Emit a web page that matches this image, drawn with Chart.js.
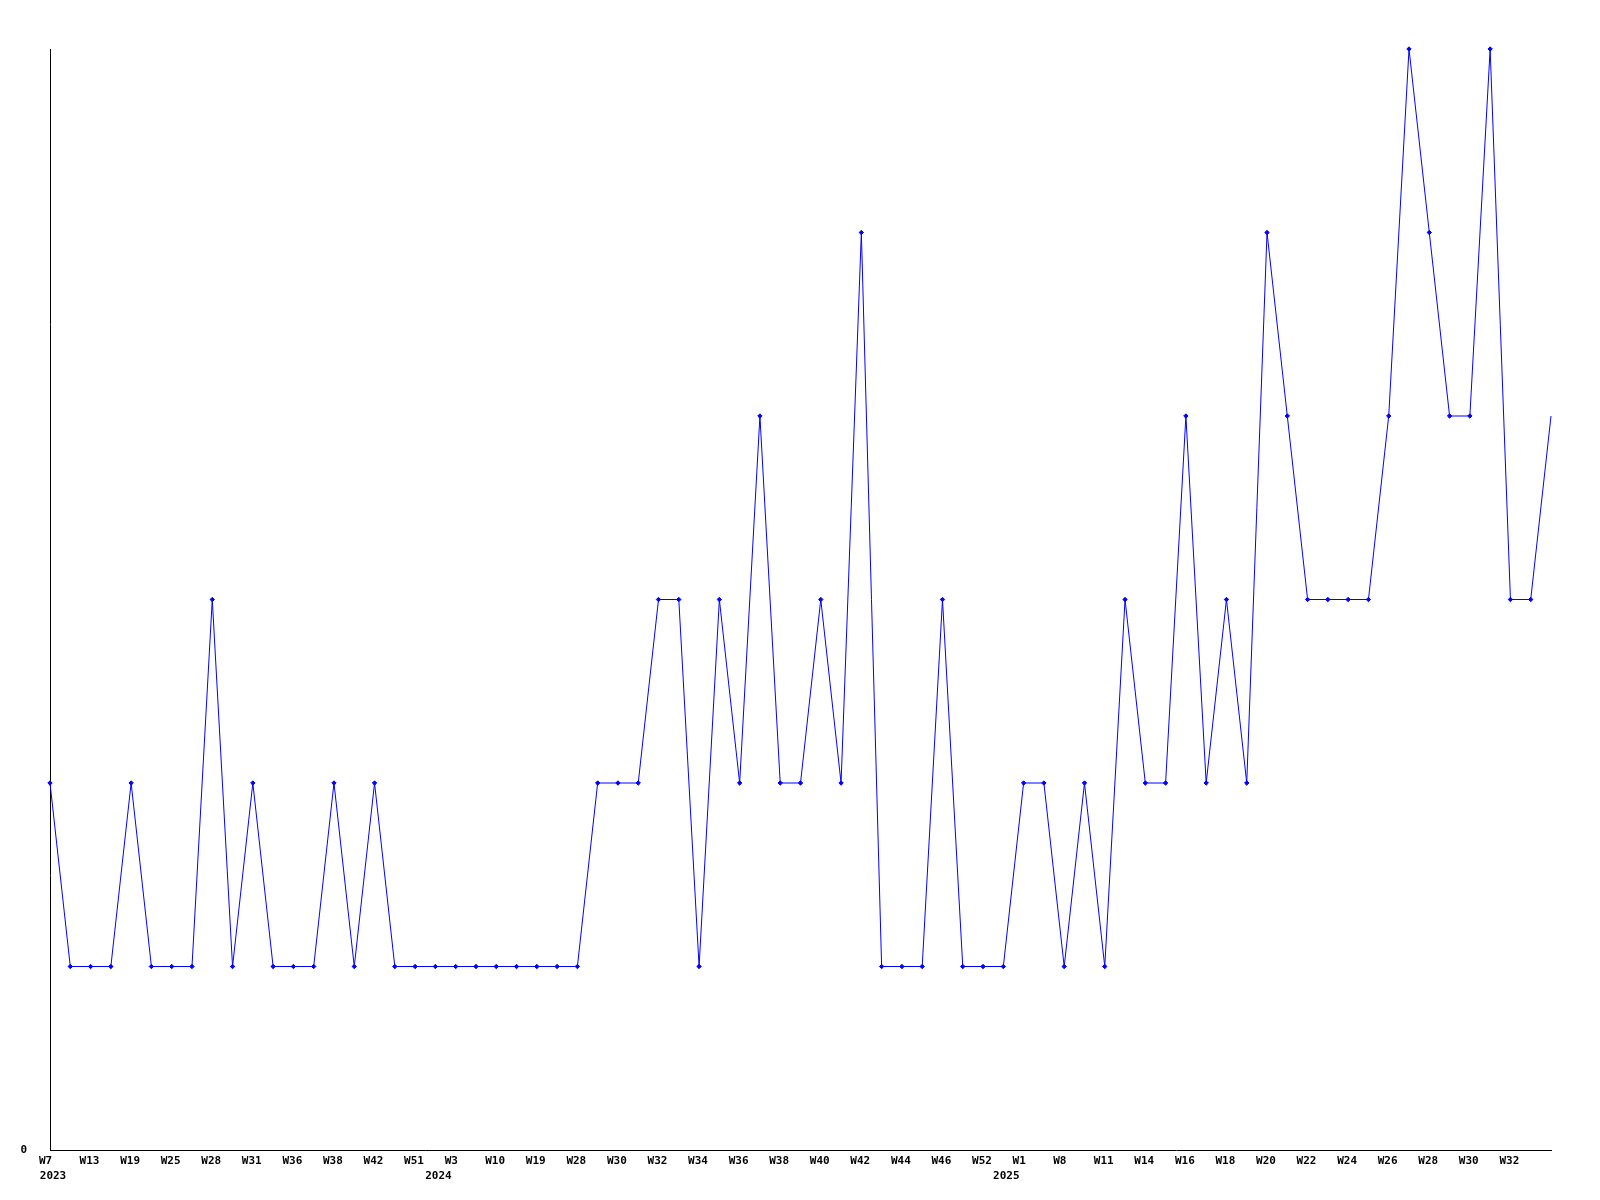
<!DOCTYPE html>
<html>
<head>
<meta charset="utf-8">
<script src="https://cdn.jsdelivr.net/npm/chart.js@4/dist/chart.umd.min.js"></script>
<style>
html, body { margin: 0; padding: 0; background: #fff; }
#wrap { width: 1600px; height: 1200px; }
</style>
</head>
<body>
<div id="wrap"><canvas id="chart" width="1600" height="1200"></canvas></div>
<script>
"use strict"

// veckoetiketter som syns under x-axeln (på varannan punkt)
const weekTicks = ['W7', 'W13', 'W19', 'W25', 'W28', 'W31', 'W36', 'W38', 'W42', 'W51',
    'W3', 'W10', 'W19', 'W28', 'W30', 'W32', 'W34', 'W36', 'W38', 'W40', 'W42', 'W44',
    'W46', 'W52', 'W1', 'W8', 'W11', 'W14', 'W16', 'W18', 'W20', 'W22', 'W24', 'W26',
    'W28', 'W30', 'W32']

// årtal och vid vilken punkt året börjar
const years = ['2023', '2024', '2025']
const yearPoints = [0, 19, 47]

// ett värde per vecka
const values = [2, 1, 1, 1, 2, 1, 1, 1, 3, 1,
    2, 1, 1, 1, 2, 1, 2, 1, 1, 1,
    1, 1, 1, 1, 1, 1, 1, 2, 2, 2,
    3, 3, 1, 3, 2, 4, 2, 2, 3, 2,
    5, 1, 1, 1, 3, 1, 1, 1, 2, 2,
    1, 2, 1, 3, 2, 2, 4, 2, 3, 2,
    5, 4, 3, 3, 3, 3, 4, 6, 5, 4,
    4, 6, 3, 3, 4]

// kategorier: etikett på varannan punkt, tomt däremellan
const categories = values.map((v, i) => i % 2 === 0 && weekTicks[i / 2] ? weekTicks[i / 2] : '')

const axisFont = { family: 'DejaVu Sans Mono', size: 11, weight: 'bold', lineHeight: 1.36 }

const ctx = document.getElementById('chart').getContext('2d')
new Chart(ctx, {
    type: 'line',
    data: {
        labels: categories,
        datasets: [{
            data: values,
            borderColor: '#0000ff',
            backgroundColor: '#0000ff',
            borderWidth: 1,
            tension: 0,
            fill: false,
            pointStyle: 'rectRot',
            pointRadius: c => c.dataIndex === values.length - 1 ? 0 : 2.2,
            pointBorderWidth: 1,
            clip: false
        }]
    },
    options: {
        responsive: false,
        animation: false,
        layout: { padding: { left: 0, right: 49, top: 49, bottom: 0 } },
        plugins: {
            legend: { display: false },
            tooltip: { enabled: false }
        },
        scales: {
            x: {
                offset: false,
                grid: { display: false, drawTicks: false },
                border: { display: true, color: '#000', width: 1 },
                ticks: {
                    autoSkip: false,
                    maxRotation: 0,
                    minRotation: 0,
                    align: 'start',
                    labelOffset: -11,
                    padding: 4,
                    color: '#000',
                    font: axisFont,
                    callback: (v, i) => categories[i]
                },
                afterFit: s => { s.height = 19 }
            },
            // andra raden med årtal
            years: {
                type: 'category',
                position: 'bottom',
                labels: categories,
                offset: false,
                grid: { display: false, drawTicks: false },
                border: { display: false },
                ticks: {
                    autoSkip: false,
                    maxRotation: 0,
                    minRotation: 0,
                    labelOffset: 3,
                    padding: 0,
                    color: '#000',
                    font: axisFont,
                    callback: (v, i) => {
                        const y = yearPoints.indexOf(i)
                        return y >= 0 ? years[y] : ''
                    }
                },
                afterFit: s => { s.height = 31 }
            },
            y: {
                min: 0,
                max: 6,
                grid: { display: false, drawTicks: false },
                border: { display: true, color: '#000', width: 1 },
                ticks: {
                    stepSize: 6,
                    padding: 23,
                    color: '#000',
                    font: axisFont,
                    callback: v => v === 0 ? '0' : ''
                },
                afterFit: s => { s.width = 50 }
            }
        }
    }
})
</script>
</body>
</html>
